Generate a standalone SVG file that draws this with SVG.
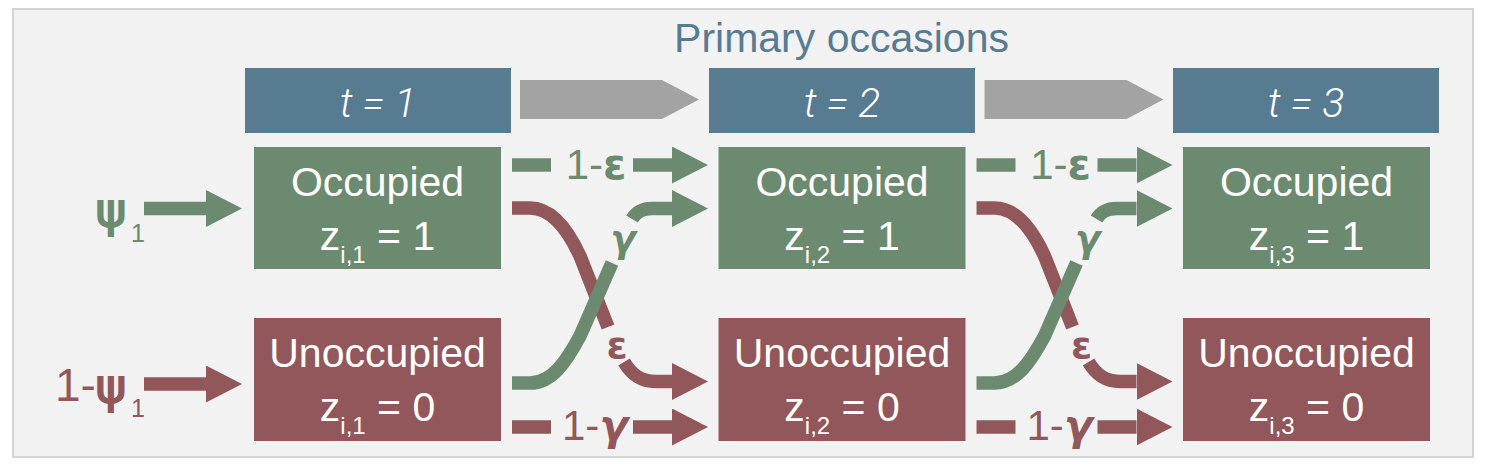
<svg xmlns="http://www.w3.org/2000/svg" width="1487" height="468" viewBox="0 0 1487 468">
<style>
.frame{fill:#f2f2f2;stroke:#d4d4d4;stroke-width:2}
.tbox{fill:#577b91}
.occ{fill:#6b8a70}
.unocc{fill:#92575a}
.gray{fill:#a3a3a3}
.ttl{font-family:"Liberation Sans",Arial,sans-serif;font-size:41px;fill:#577b91;text-anchor:middle}
.tlab{font-family:Roboto,"Liberation Sans",sans-serif;font-weight:300;font-style:italic;font-size:41px;fill:#ffffff;text-anchor:middle}
.btxt{font-family:"Liberation Sans",Arial,sans-serif;font-size:41px;fill:#ffffff;text-anchor:middle}
.sub{font-size:24px}
.gl{stroke:#6b8a70;stroke-width:13.5;fill:none}
.rl{stroke:#92575a;stroke-width:13.5;fill:none}
.lab{font-family:"Liberation Sans",Arial,sans-serif;font-size:42px;text-anchor:middle}
.gk{font-family:"DejaVu Sans",sans-serif;font-weight:bold}
.psi{font-family:"DejaVu Sans",sans-serif;font-size:46px;stroke-width:2}
.gtxt{fill:#6b8a70}
.rtxt{fill:#92575a}
.gs{stroke:#6b8a70}
.rs{stroke:#92575a}
</style>
<defs>
<marker id="hg" markerUnits="userSpaceOnUse" markerWidth="36" markerHeight="37" viewBox="0 0 36 37" refX="0" refY="18.5" orient="auto"><path d="M0,0 L36,18.5 L0,37 z" fill="#6b8a70"/></marker>
<marker id="hr" markerUnits="userSpaceOnUse" markerWidth="36" markerHeight="37" viewBox="0 0 36 37" refX="0" refY="18.5" orient="auto"><path d="M0,0 L36,18.5 L0,37 z" fill="#92575a"/></marker>
</defs>
<rect class="frame" x="13" y="9" width="1460" height="448"/>
<text class="ttl" x="841.5" y="52">Primary occasions</text>

<g id="time1"><rect class="tbox" x="245" y="68" width="266" height="65"/><text class="tlab" x="378" y="117">t = 1</text></g>
<g id="time2"><rect class="tbox" x="709" y="68" width="266" height="65"/><text class="tlab" x="842" y="117">t = 2</text></g>
<g id="time3"><rect class="tbox" x="1173" y="68" width="266" height="65"/><text class="tlab" x="1306" y="117">t = 3</text></g>

<g id="occ1"><rect class="occ" x="254" y="147" width="247" height="122"/><text class="btxt" x="377.5" y="196">Occupied</text><text class="btxt" x="377.5" y="250">z<tspan class="sub" dy="13">i,1</tspan><tspan dy="-13"> = 1</tspan></text></g>
<g id="occ2"><rect class="occ" x="718.5" y="147" width="247" height="122"/><text class="btxt" x="842" y="196">Occupied</text><text class="btxt" x="842" y="250">z<tspan class="sub" dy="13">i,2</tspan><tspan dy="-13"> = 1</tspan></text></g>
<g id="occ3"><rect class="occ" x="1183" y="147" width="247" height="122"/><text class="btxt" x="1306.5" y="196">Occupied</text><text class="btxt" x="1306.5" y="250">z<tspan class="sub" dy="13">i,3</tspan><tspan dy="-13"> = 1</tspan></text></g>

<g id="unocc1"><rect class="unocc" x="254" y="318" width="247" height="123"/><text class="btxt" x="377.5" y="367">Unoccupied</text><text class="btxt" x="377.5" y="421">z<tspan class="sub" dy="13">i,1</tspan><tspan dy="-13"> = 0</tspan></text></g>
<g id="unocc2"><rect class="unocc" x="718.5" y="318" width="247" height="123"/><text class="btxt" x="842" y="367">Unoccupied</text><text class="btxt" x="842" y="421">z<tspan class="sub" dy="13">i,2</tspan><tspan dy="-13"> = 0</tspan></text></g>
<g id="unocc3"><rect class="unocc" x="1183" y="318" width="247" height="123"/><text class="btxt" x="1306.5" y="367">Unoccupied</text><text class="btxt" x="1306.5" y="421">z<tspan class="sub" dy="13">i,3</tspan><tspan dy="-13"> = 0</tspan></text></g>

<g id="psi-label"><text class="gtxt gs psi" x="111" y="226" text-anchor="middle">ψ</text><text class="gtxt" font-family="Liberation Sans,sans-serif" font-size="25" x="131" y="242">1</text></g>
<g id="one-minus-psi-label"><text class="rtxt" font-family="Liberation Sans,sans-serif" font-size="46" x="55" y="401">1-</text><text class="rtxt rs psi" x="111" y="402" text-anchor="middle">ψ</text><text class="rtxt" font-family="Liberation Sans,sans-serif" font-size="25" x="131" y="417">1</text></g>

<g id="connectors">
<polygon class="gray" points="520,80 662,80 699,99.5 662,119 520,119"/>
<polygon class="gray" points="984.5,80 1126.5,80 1163.5,99.5 1126.5,119 984.5,119"/>
<path class="gl" d="M144,208.5 H206" marker-end="url(#hg)"/>
<path class="rl" d="M144,384 H206" marker-end="url(#hr)"/>
<g id="transitions12">
<path class="gl" d="M512,165 H551"/>
<path class="gl" d="M633,165 H672" marker-end="url(#hg)"/>
<text class="lab gtxt" x="596" y="179">1-<tspan class="gk">ε</tspan></text>
<path class="rl" d="M512,427 H551"/>
<path class="rl" d="M633,427 H672" marker-end="url(#hr)"/>
<text class="lab rtxt" x="595" y="440">1-<tspan class="gk" font-style="italic">γ</tspan></text>
<path class="rl" d="M512,208 H530 C552,208 568,230 580,256 L608,327"/>
<path class="rl" d="M624,362 C632,375 641,381.5 656,381.5 H672" marker-end="url(#hr)"/>
<path class="gl" d="M512,383 H530 C552,383 566,362 580,336 L612,263"/>
<path class="gl" d="M632,219 C637,211 643,208.5 652,208.5 H672" marker-end="url(#hg)"/>
<text class="rtxt gk" font-size="38" x="617" y="358" text-anchor="middle">ε</text>
<text class="gtxt gk" font-size="37" font-style="italic" x="623" y="252" text-anchor="middle">γ</text>
</g>
<g id="transitions23" transform="translate(464.5,0)">
<path class="gl" d="M512,165 H551"/>
<path class="gl" d="M633,165 H672" marker-end="url(#hg)"/>
<text class="lab gtxt" x="596" y="179">1-<tspan class="gk">ε</tspan></text>
<path class="rl" d="M512,427 H551"/>
<path class="rl" d="M633,427 H672" marker-end="url(#hr)"/>
<text class="lab rtxt" x="595" y="440">1-<tspan class="gk" font-style="italic">γ</tspan></text>
<path class="rl" d="M512,208 H530 C552,208 568,230 580,256 L608,327"/>
<path class="rl" d="M624,362 C632,375 641,381.5 656,381.5 H672" marker-end="url(#hr)"/>
<path class="gl" d="M512,383 H530 C552,383 566,362 580,336 L612,263"/>
<path class="gl" d="M632,219 C637,211 643,208.5 652,208.5 H672" marker-end="url(#hg)"/>
<text class="rtxt gk" font-size="38" x="617" y="358" text-anchor="middle">ε</text>
<text class="gtxt gk" font-size="37" font-style="italic" x="623" y="252" text-anchor="middle">γ</text>
</g>
</g>
</svg>
